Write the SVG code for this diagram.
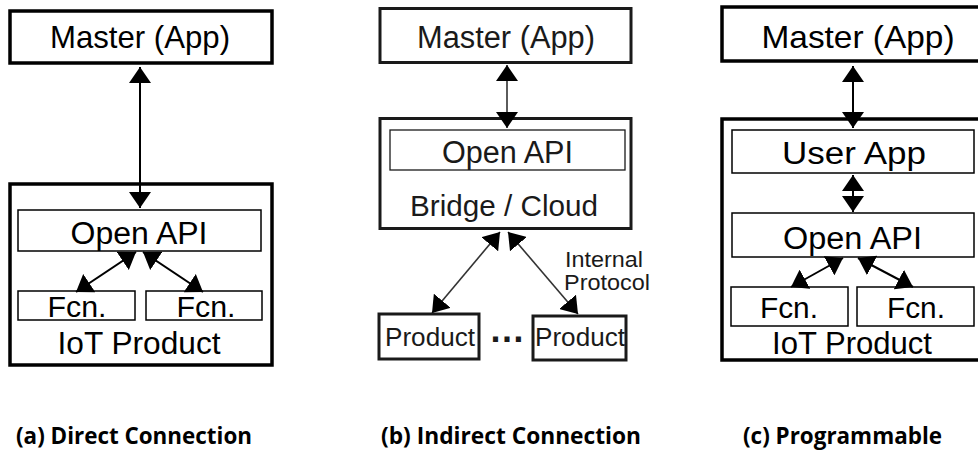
<svg xmlns="http://www.w3.org/2000/svg" width="978" height="451" viewBox="0 0 978 451">
<defs>
<style>
.thick{fill:#fff;stroke:#000;stroke-width:3.5}
.thin{fill:#fff;stroke:#000;stroke-width:1.5}
.bthick{fill:#fff;stroke:#1a1a1a;stroke-width:3}
.bthin{fill:#fff;stroke:#1a1a1a;stroke-width:1.3}
.t{font-family:"Liberation Sans",Arial,sans-serif;fill:#000;text-anchor:middle}
.tb{font-family:"Liberation Sans",Arial,sans-serif;fill:#1a1a1a;text-anchor:middle}
.ts{font-family:"Liberation Sans",Arial,sans-serif;fill:#1a1a1a;text-anchor:start}
.cap{font-family:"Open Sans","Noto Sans",sans-serif;font-weight:bold;font-size:23px;fill:#000}
.c{fill:none;stroke:#000;stroke-width:2;marker-start:url(#ah);marker-end:url(#ah)}
.cb{fill:none;stroke:#333;stroke-width:1.6;marker-start:url(#ah);marker-end:url(#ah)}
</style>
<marker id="ah" markerUnits="userSpaceOnUse" markerWidth="16" markerHeight="22" viewBox="0 0 16 22" refX="16" refY="11" orient="auto-start-reverse">
<path d="M0,0 L16,11 L0,22 Z" fill="#000"/>
</marker>
</defs>

<!-- Panel (a) -->
<g id="a-master"><rect class="thick" x="10" y="11" width="262" height="52"/><text class="t" x="140" y="48" font-size="32" textLength="180" lengthAdjust="spacingAndGlyphs">Master (App)</text></g>
<g id="a-iot"><rect class="thick" x="10" y="184" width="262" height="181"/><text class="t" x="139" y="354" font-size="32" textLength="163" lengthAdjust="spacingAndGlyphs">IoT Product</text></g>
<g id="a-openapi"><rect class="thin" x="18" y="210" width="243" height="41"/><text class="t" x="139" y="244" font-size="31" textLength="137" lengthAdjust="spacingAndGlyphs">Open API</text></g>
<g id="a-fcn1"><rect class="thin" x="18" y="291" width="117" height="29"/><text class="t" x="77" y="317" font-size="29" textLength="59" lengthAdjust="spacingAndGlyphs">Fcn.</text></g>
<g id="a-fcn2"><rect class="thin" x="146" y="291" width="116" height="29"/><text class="t" x="206" y="317" font-size="29" textLength="59" lengthAdjust="spacingAndGlyphs">Fcn.</text></g>

<!-- Panel (b) -->
<g id="b-master"><rect class="bthick" x="380" y="8.5" width="251" height="54"/><text class="tb" x="506" y="48" font-size="31" textLength="178" lengthAdjust="spacingAndGlyphs">Master (App)</text></g>
<g id="b-bridge"><rect class="bthick" x="380" y="118.5" width="251" height="110"/><text class="tb" x="504" y="216" font-size="30" textLength="188" lengthAdjust="spacingAndGlyphs">Bridge / Cloud</text></g>
<g id="b-openapi"><rect class="bthin" x="390" y="130" width="235" height="40"/><text class="tb" x="507.5" y="163" font-size="31" textLength="131" lengthAdjust="spacingAndGlyphs">Open API</text></g>
<g id="b-product1"><rect class="bthick" x="379" y="314" width="100" height="45"/><text class="tb" x="430" y="346" font-size="25" textLength="90" lengthAdjust="spacingAndGlyphs">Product</text></g>
<g id="b-dots"><text class="tb" x="507" y="342" font-size="36" font-weight="bold">…</text></g>
<g id="b-product2"><rect class="bthick" x="533" y="316" width="93" height="44"/><text class="tb" x="580" y="346" font-size="25" textLength="90" lengthAdjust="spacingAndGlyphs">Product</text></g>
<g id="b-label"><text class="ts" x="565" y="267" font-size="22" textLength="78" lengthAdjust="spacingAndGlyphs">Internal</text><text class="ts" x="564" y="290" font-size="22" textLength="86" lengthAdjust="spacingAndGlyphs">Protocol</text></g>

<!-- Panel (c) -->
<g id="c-master"><rect class="thick" x="722" y="7" width="270" height="54"/><text class="t" x="858" y="48" font-size="32" textLength="193" lengthAdjust="spacingAndGlyphs">Master (App)</text></g>
<g id="c-iot"><rect class="thick" x="722" y="119" width="270" height="241"/><text class="t" x="852" y="354" font-size="32" textLength="160" lengthAdjust="spacingAndGlyphs">IoT Product</text></g>
<g id="c-userapp"><rect class="thin" x="732" y="130" width="242" height="43"/><text class="t" x="854" y="164" font-size="31" textLength="144" lengthAdjust="spacingAndGlyphs">User App</text></g>
<g id="c-openapi"><rect class="thin" x="732" y="213" width="242" height="44"/><text class="t" x="852.5" y="249" font-size="31" textLength="139" lengthAdjust="spacingAndGlyphs">Open API</text></g>
<g id="c-fcn1"><rect class="thin" x="731" y="287" width="117" height="39"/><text class="t" x="789" y="318" font-size="30" textLength="58" lengthAdjust="spacingAndGlyphs">Fcn.</text></g>
<g id="c-fcn2"><rect class="thin" x="857" y="287" width="117" height="39"/><text class="t" x="916" y="318" font-size="30" textLength="58" lengthAdjust="spacingAndGlyphs">Fcn.</text></g>

<!-- Connectors -->
<g id="connectors">
<line class="c" x1="140" y1="67" x2="140" y2="208"/>
<line class="c" x1="136" y1="252" x2="76" y2="292"/>
<line class="c" x1="143" y1="252" x2="203" y2="292"/>
<line class="cb" x1="507" y1="65" x2="507" y2="128"/>
<line class="cb" x1="500" y1="232" x2="432" y2="313"/>
<line class="cb" x1="508" y1="232" x2="578" y2="314"/>
<line class="c" x1="853" y1="66" x2="853" y2="128"/>
<line class="c" x1="853" y1="175" x2="853" y2="212"/>
<line class="c" x1="843" y1="258" x2="791" y2="287"/>
<line class="c" x1="858" y1="258" x2="913" y2="287"/>
</g>

<!-- Captions -->
<text class="cap" x="16" y="444" textLength="236" lengthAdjust="spacingAndGlyphs">(a) Direct Connection</text>
<text class="cap" x="381" y="444" textLength="260" lengthAdjust="spacingAndGlyphs">(b) Indirect Connection</text>
<text class="cap" x="743" y="444" textLength="199" lengthAdjust="spacingAndGlyphs">(c) Programmable</text>
</svg>
